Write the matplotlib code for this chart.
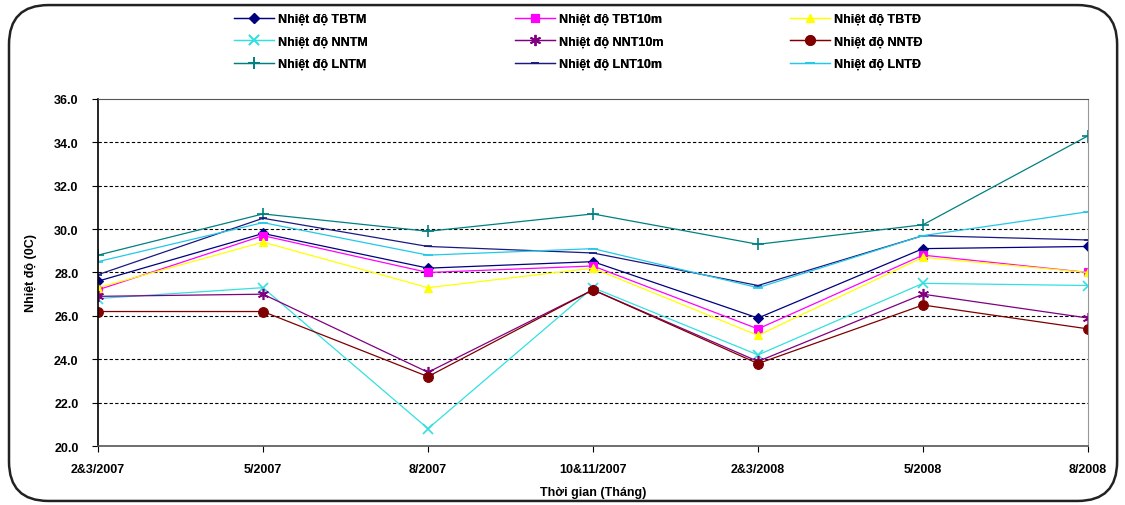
import matplotlib.pyplot as plt
from matplotlib.patches import FancyBboxPatch
import numpy as np

plt.rcParams['font.family'] = ['Liberation Sans', 'DejaVu Sans']
plt.rcParams['font.weight'] = 'bold'

categories = ['2&3/2007', '5/2007', '8/2007', '10&11/2007', '2&3/2008', '5/2008', '8/2008']

tbtm = [27.6, 29.8, 28.2, 28.5, 25.9, 29.1, 29.2]
tbt10m = [27.2, 29.7, 28.0, 28.3, 25.4, 28.8, 28.0]
tbtd = [27.3, 29.4, 27.3, 28.2, 25.1, 28.7, 28.0]
nntm = [26.8, 27.3, 20.8, 27.3, 24.2, 27.5, 27.4]
nnt10m = [26.9, 27.0, 23.4, 27.2, 23.9, 27.0, 25.9]
nntd = [26.2, 26.2, 23.2, 27.2, 23.8, 26.5, 25.4]
lntm = [28.8, 30.7, 29.9, 30.7, 29.3, 30.2, 34.3]
lnt10m = [27.9, 30.5, 29.2, 28.9, 27.4, 29.7, 29.5]
lntd = [28.5, 30.3, 28.8, 29.1, 27.3, 29.7, 30.8]

series = [
    ('Nhiệt độ TBTM', tbtm, '#000080', 'D', 5),
    ('Nhiệt độ TBT10m', tbt10m, '#FF00FF', 's', 6),
    ('Nhiệt độ TBTĐ', tbtd, '#FFFF00', '^', 6),
    ('Nhiệt độ NNTM', nntm, '#33E0E0', 'x', 7),
    ('Nhiệt độ NNT10m', nnt10m, '#800080', (6, 2, 0), 8),
    ('Nhiệt độ NNTĐ', nntd, '#800000', 'o', 7),
    ('Nhiệt độ LNTM', lntm, '#008080', '+', 9),
    ('Nhiệt độ LNT10m', lnt10m, '#1a1a80', '_', 6),
    ('Nhiệt độ LNTĐ', lntd, '#22C8E8', '_', 7),
]

fig = plt.figure(figsize=(11.25, 5.06), dpi=100)
ax = fig.add_axes([0.0871, 0.1166, 0.8800, 0.6858])

x = np.arange(len(categories))
handles = []
for name, vals, col, mk, ms in series:
    mew = 0.8 if mk in ('D', 's', '^', 'o') else 1.2
    h, = ax.plot(x, vals, color=col, marker=mk, markersize=ms, linewidth=0.9,
                 markeredgewidth=mew, label=name)
    handles.append(h)

ax.set_xlim(0, len(categories) - 1)
ax.set_ylim(20, 36)
ax.set_yticks(np.arange(20, 36.1, 2))
ax.set_yticklabels([f'{v:.1f}' for v in np.arange(20, 36.1, 2)])
ax.set_xticks(x)
ax.set_xticklabels(categories)
ax.tick_params(axis='both', labelsize=9, length=4, direction='out')
ax.tick_params(axis='x', pad=8)
ax.tick_params(axis='y', pad=10)

for yv in range(22, 36, 2):
    ax.axhline(yv, color='black', linestyle=(0, (3, 2)), linewidth=0.8, zorder=0)

ax.spines['left'].set_color('black')
ax.spines['left'].set_linewidth(1.2)
ax.spines['bottom'].set_color('#555555')
ax.spines['bottom'].set_linewidth(1.2)
ax.spines['top'].set_color('#555555')
ax.spines['right'].set_color('#999999')

ax.set_ylabel('Nhiệt độ (0C)', fontsize=9, fontweight='bold', labelpad=12)
ax.set_xlabel('Thời gian (Tháng)', fontsize=9, fontweight='bold', labelpad=8)

# legend in three columns, row-major order
anchors = [0.197, 0.447, 0.691]
for c in range(3):
    hs = [handles[c], handles[c + 3], handles[c + 6]]
    leg = fig.legend(handles=hs, loc='upper left', bbox_to_anchor=(anchors[c], 0.997),
                     frameon=False, fontsize=9, handlelength=3.2, labelspacing=0.85,
                     handletextpad=0.3, borderaxespad=0.6)
    fig.add_artist(leg)

frame = FancyBboxPatch((0.008, 0.008), 0.985, 0.98, boxstyle='round,pad=0,rounding_size=0.035',
                       transform=fig.transFigure, fill=False, edgecolor='#222222',
                       linewidth=1.8, mutation_aspect=1125 / 506)
fig.patches.append(frame)

fig.savefig('out.png', dpi=100)
